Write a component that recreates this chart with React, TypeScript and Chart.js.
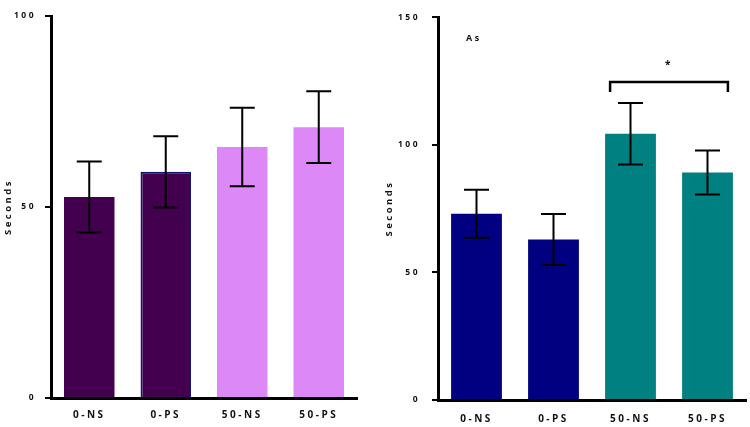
import React, { useEffect, useRef } from 'react';
import { Chart, registerables } from 'chart.js';

Chart.register(...registerables);

const categories = ['0-NS', '0-PS', '50-NS', '50-PS'];
const leftMeans = [52.6, 59.2, 65.7, 70.9];
const leftErrors = [9.3, 9.3, 10.3, 9.4];
const rightMeans = [73.0, 62.9, 104.3, 89.1];
const rightErrors = [9.4, 10.0, 12.0, 8.6];
const leftYTicks = [0, 50, 100];
const rightYTicks = [0, 50, 100, 150];
const leftColors = ['#42004f', '#42004f', '#dd88f7', '#dd88f7'];
const leftBorderColors = ['#42004f', '#14146e', '#dd88f7', '#dd88f7'];
const leftBorderWidths = [0, 2, 0, 0];
const rightColors = ['#000080', '#000080', '#008080', '#008080'];
const yTitle = 'Seconds';
const rightLabel = 'As';
const rightLabelValue = 141.8;
const sigPair = [2, 3];
const sigMark = '*';
const sigBracketValue = 124.6;
const sigBracketDrop = 120.7;
const sigMarkValue = 131;

const FONT = '"Open Sans", "DejaVu Sans", sans-serif';
const SPACING = '2.5px';

const spacingPlugin = {
  id: 'spacing',
  beforeUpdate(c: any) {
    c.ctx.letterSpacing = SPACING;
  },
  beforeDraw(c: any) {
    c.ctx.letterSpacing = SPACING;
  },
};

function errorBarPlugin(means: number[], errors: number[]) {
  return {
    id: 'errbars',
    afterDatasetsDraw(c: any) {
      const meta = c.getDatasetMeta(0);
      const ys = c.scales.y;
      const ctx = c.ctx;
      ctx.save();
      ctx.strokeStyle = '#000';
      ctx.lineWidth = 2;
      meta.data.forEach((bar: any, i: number) => {
        const x = bar.x;
        const t = ys.getPixelForValue(means[i] + errors[i]);
        const b = ys.getPixelForValue(means[i] - errors[i]);
        ctx.beginPath();
        ctx.moveTo(x, t);
        ctx.lineTo(x, b);
        ctx.moveTo(x - 12.5, t);
        ctx.lineTo(x + 12.5, t);
        ctx.moveTo(x - 12.5, b);
        ctx.lineTo(x + 12.5, b);
        ctx.stroke();
      });
      ctx.restore();
    },
  };
}

const annotationPlugin = {
  id: 'annot',
  afterDraw(c: any) {
    const ctx = c.ctx;
    const ys = c.scales.y;
    const meta = c.getDatasetMeta(0);
    ctx.save();
    ctx.fillStyle = '#111';
    ctx.font = `bold 9px ${FONT}`;
    ctx.textBaseline = 'middle';
    ctx.textAlign = 'left';
    ctx.fillText(rightLabel, c.chartArea.left + 28, ys.getPixelForValue(rightLabelValue));
    const b1 = meta.data[sigPair[0]];
    const b2 = meta.data[sigPair[1]];
    const x1 = b1.x - b1.width / 2 + 5;
    const x2 = b2.x + b2.width / 2 - 5;
    const yb = ys.getPixelForValue(sigBracketValue);
    const yd = ys.getPixelForValue(sigBracketDrop);
    ctx.strokeStyle = '#000';
    ctx.lineWidth = 2.5;
    ctx.beginPath();
    ctx.moveTo(x1, yd);
    ctx.lineTo(x1, yb);
    ctx.lineTo(x2, yb);
    ctx.lineTo(x2, yd);
    ctx.stroke();
    ctx.textAlign = 'center';
    ctx.font = `bold 10px ${FONT}`;
    ctx.fillText(sigMark, (x1 + x2) / 2, ys.getPixelForValue(sigMarkValue));
    ctx.restore();
  },
};

function makeConfig(opts: {
  means: number[];
  errors: number[];
  colors: string[];
  borderColors: string[];
  borderWidths: number[];
  ticks: number[];
  max: number;
  yWidth: number;
  xHeight: number;
  padRight: number;
  titlePad: number;
  tickPad: number;
  xTickPad: number;
  extra: any[];
}): any {
  return {
    type: 'bar',
    data: {
      labels: categories,
      datasets: [
        {
          data: opts.means,
          backgroundColor: opts.colors,
          borderColor: opts.borderColors,
          borderWidth: opts.borderWidths,
          borderSkipped: 'bottom',
          barPercentage: 0.66,
          categoryPercentage: 1.0,
        },
      ],
    },
    options: {
      responsive: false,
      animation: false,
      layout: { padding: { left: 0, right: opts.padRight, top: 16, bottom: 0 } },
      plugins: { legend: { display: false }, tooltip: { enabled: false } },
      scales: {
        x: {
          grid: { display: false, drawTicks: false },
          border: { display: true, width: 3, color: '#000', z: 1 },
          ticks: { color: '#111', font: { family: FONT, size: 10, weight: 'bold' }, padding: opts.xTickPad },
          afterFit: (s: any) => {
            s.height = opts.xHeight;
          },
        },
        y: {
          min: 0,
          max: opts.max,
          grid: {
            display: true,
            drawOnChartArea: false,
            drawTicks: true,
            tickLength: 6,
            lineWidth: 2,
            color: '#000',
          },
          border: { display: true, width: 3, color: '#000', z: 1 },
          ticks: {
            color: '#111',
            font: { family: FONT, size: 8.5, weight: 'bold' },
            padding: opts.tickPad,
          },
          afterBuildTicks: (s: any) => {
            s.ticks = opts.ticks.map((v) => ({ value: v }));
          },
          afterFit: (s: any) => {
            s.width = opts.yWidth;
          },
          title: {
            display: true,
            text: yTitle,
            color: '#111',
            font: { family: FONT, size: 9.5, weight: 'bold' },
            padding: { top: opts.titlePad, bottom: 0 },
          },
        },
      },
    },
    plugins: [spacingPlugin, errorBarPlugin(opts.means, opts.errors), ...opts.extra],
  };
}

export default function App() {
  const leftRef = useRef<HTMLCanvasElement>(null);
  const rightRef = useRef<HTMLCanvasElement>(null);

  useEffect(() => {
    const left = new Chart(
      leftRef.current as HTMLCanvasElement,
      makeConfig({
        means: leftMeans,
        errors: leftErrors,
        colors: leftColors,
        borderColors: leftBorderColors,
        borderWidths: leftBorderWidths,
        ticks: leftYTicks,
        max: 100,
        yWidth: 51,
        xHeight: 29,
        padRight: 18,
        titlePad: 3,
        tickPad: 9,
        xTickPad: 11,
        extra: [],
      })
    );
    const right = new Chart(
      rightRef.current as HTMLCanvasElement,
      makeConfig({
        means: rightMeans,
        errors: rightErrors,
        colors: rightColors,
        borderColors: rightColors,
        borderWidths: [0, 0, 0, 0],
        ticks: rightYTicks,
        max: 150,
        yWidth: 63,
        xHeight: 27,
        padRight: 4,
        titlePad: 9,
        tickPad: 12,
        xTickPad: 13,
        extra: [annotationPlugin],
      })
    );
    return () => {
      left.destroy();
      right.destroy();
    };
  }, []);

  return (
    <div style={{ position: 'fixed', left: 0, top: 0, width: 750, height: 427, background: '#fff' }}>
      <canvas
        ref={leftRef}
        width={375}
        height={427}
        style={{ position: 'absolute', left: 0, top: 0, width: 375, height: 427 }}
      />
      <canvas
        ref={rightRef}
        width={375}
        height={427}
        style={{ position: 'absolute', left: 375, top: 0, width: 375, height: 427 }}
      />
    </div>
  );
}
